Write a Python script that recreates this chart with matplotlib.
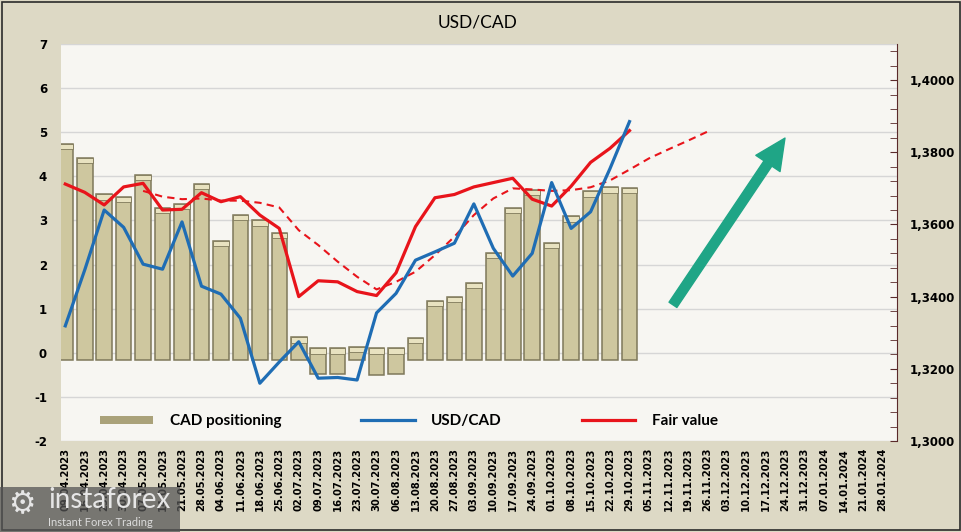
import numpy as np
import pandas as pd
import matplotlib.pyplot as plt
from matplotlib.patches import Patch, Rectangle
from matplotlib.lines import Line2D
from matplotlib.ticker import MultipleLocator, FuncFormatter

plt.rcParams['axes.unicode_minus'] = False

# weekly dates on the category axis
dates = pd.date_range('2023-04-09', periods=43, freq='7D').strftime('%d.%m.%Y').tolist()

# CAD positioning (left axis), 09.04.2023 - 29.10.2023
positioning = [4.73, 4.42, 3.59, 3.54, 4.04, 3.29, 3.38, 3.83, 2.53, 3.13,
               3.00, 2.72, 0.35, -0.30, -0.30, 0.13, -0.33, -0.30, 0.34, 1.17,
               1.26, 1.58, 2.26, 3.29, 3.69, 2.49, 3.09, 3.66, 3.75, 3.74]

# USD/CAD (right axis)
usdcad = [1.3319, 1.3474, 1.3640, 1.3592, 1.3490, 1.3476, 1.3607, 1.3429, 1.3407, 1.3340,
          1.3160, 1.3219, 1.3275, 1.3174, 1.3176, 1.3169, 1.3355, 1.3409, 1.3501, 1.3524,
          1.3548, 1.3657, 1.3534, 1.3457, 1.3520, 1.3716, 1.3589, 1.3635, 1.3755, 1.3885]

# fair value (right axis)
fair = [1.3712, 1.3689, 1.3654, 1.3704, 1.3714, 1.3640, 1.3642, 1.3688, 1.3663, 1.3677,
        1.3626, 1.3589, 1.3400, 1.3444, 1.3441, 1.3414, 1.3403, 1.3466, 1.3594, 1.3674,
        1.3683, 1.3704, 1.3716, 1.3728, 1.3670, 1.3651, 1.3706, 1.3772, 1.3811, 1.3860]

# smoothed fair value, starts at 07.05.2023 and runs to 26.11.2023
trend_start = 4
fair_trend = [1.3693, 1.3677, 1.3670, 1.3672, 1.3666, 1.3666, 1.3660, 1.3647, 1.3584, 1.3543,
              1.3497, 1.3455, 1.3420, 1.3441, 1.3469, 1.3515, 1.3566, 1.3626, 1.3672, 1.3700,
              1.3697, 1.3693, 1.3695, 1.3703, 1.3722, 1.3752, 1.3783, 1.3808, 1.3832, 1.3857]

BG = '#ddd9c5'
PLOT_BG = '#f7f6f2'
BAR = '#cec79f'
BAR_EDGE = '#7e785a'
BLUE = '#1f6db4'
RED = '#e8141b'
depth = 0.17  # fake 3d depth of the columns

fig = plt.figure(figsize=(9.62, 5.32), dpi=100, facecolor=BG)
ax = fig.add_axes([61/962, 1-441/532, 836/962, 397/532])
ax.set_facecolor(PLOT_BG)

x = np.arange(len(dates))
xb = x[:len(positioning)]
pos = np.array(positioning)
bottoms = np.minimum(pos, 0) - depth
tops = np.where(pos < 0, 0.1, pos)
ax.bar(xb, tops - bottoms, bottom=bottoms, width=0.8, color=BAR, edgecolor=BAR_EDGE, linewidth=1.1, zorder=2)
# lighter bevel at the top of each column
ax.bar(xb, 0.12, bottom=tops - 0.12, width=0.8, color='#e8e2c0', edgecolor=BAR_EDGE, linewidth=0.6, zorder=3)

ax.set_ylim(-2, 7)
ax.set_xlim(-0.22, 42.75)
ax.yaxis.set_major_locator(MultipleLocator(1))
ax.grid(axis='y', color='#d6d6d6', linewidth=1.0, zorder=0)
ax.set_axisbelow(True)
ax.set_xticks(x)
ax.set_xticklabels(dates, rotation=90, fontsize=7.2, fontweight='bold')
ax.tick_params(axis='x', length=0, pad=5)
ax.tick_params(axis='y', length=0, labelsize=8.5, pad=10)
for lab in ax.get_yticklabels():
    lab.set_fontweight('bold')
for s in ax.spines.values():
    s.set_visible(False)

ax2 = ax.twinx()
ax2.set_ylim(1.30, 1.41)
ax2.plot(np.arange(trend_start, trend_start + len(fair_trend)), fair_trend, color=RED,
         linewidth=1.5, linestyle=(0, (3.5, 2.5)), zorder=3)
ax2.plot(xb, fair, color=RED, linewidth=2.3, zorder=4)
ax2.plot(xb, usdcad, color=BLUE, linewidth=2.3, zorder=5)

ax2.set_yticks(np.arange(1.30, 1.4001, 0.02))
ax2.yaxis.set_minor_locator(MultipleLocator(0.004))
ax2.yaxis.set_major_formatter(FuncFormatter(lambda v, p: f'{v:.4f}'.replace('.', ',')))
ax2.tick_params(axis='y', which='both', direction='in', length=5, color='#5a2a2a', labelsize=8.5, pad=9)
for lab in ax2.get_yticklabels():
    lab.set_fontweight('bold')
for name, s in ax2.spines.items():
    s.set_visible(name == 'right')
ax2.spines['right'].set_color('#5a2a2a')

# green arrow
ax2.annotate('', xy=(0.866, 0.763), xytext=(0.732, 0.343), xycoords='axes fraction',
             arrowprops=dict(arrowstyle='simple,head_length=1.1,head_width=1.05,tail_width=0.34',
                             mutation_scale=20, color='#1fa586', shrinkA=0, shrinkB=0))

handles = [Patch(facecolor='#aaa27a', edgecolor='none', label='CAD positioning'),
           Line2D([], [], color=BLUE, linewidth=2.3, label='USD/CAD'),
           Line2D([], [], color=RED, linewidth=2.3, label='Fair value')]
leg = ax2.legend(handles=handles, loc='center left', bbox_to_anchor=(0.03, 0.05), ncol=3,
                 frameon=False, handlelength=3.5, handleheight=0.45, handletextpad=1.1,
                 columnspacing=5.2, prop={'family': 'Lato', 'weight': 'bold', 'size': 11})

fig.text(478/962, 1-22/532, 'USD/CAD', ha='center', va='center', fontsize=12.5, family='Lato')

# outer frame of the chart
fig.patches.append(Rectangle((0.002, 0.003), 0.996, 0.994, transform=fig.transFigure,
                             fill=False, edgecolor='#2b2b2b', linewidth=1.2))

# watermark
fig.patches.append(Rectangle((0, 0), 180/962, 45/532, transform=fig.transFigure,
                             facecolor='#555555', alpha=0.75, edgecolor='none', zorder=5))
fig.text(48/962, 1-500/532, 'instaforex', fontsize=20, color='#e6e6e6', va='center', family='Lato', zorder=6)
fig.text(48/962, 1-523/532, 'Instant Forex Trading', fontsize=8, color='#dcdcdc', va='center', family='Lato', zorder=6)
fig.text(22/962, 1-505/532, '\u2699', fontsize=22, color='#e6e6e6', va='center', ha='center', zorder=6)

fig.savefig('out.png', dpi=100, facecolor=BG)
